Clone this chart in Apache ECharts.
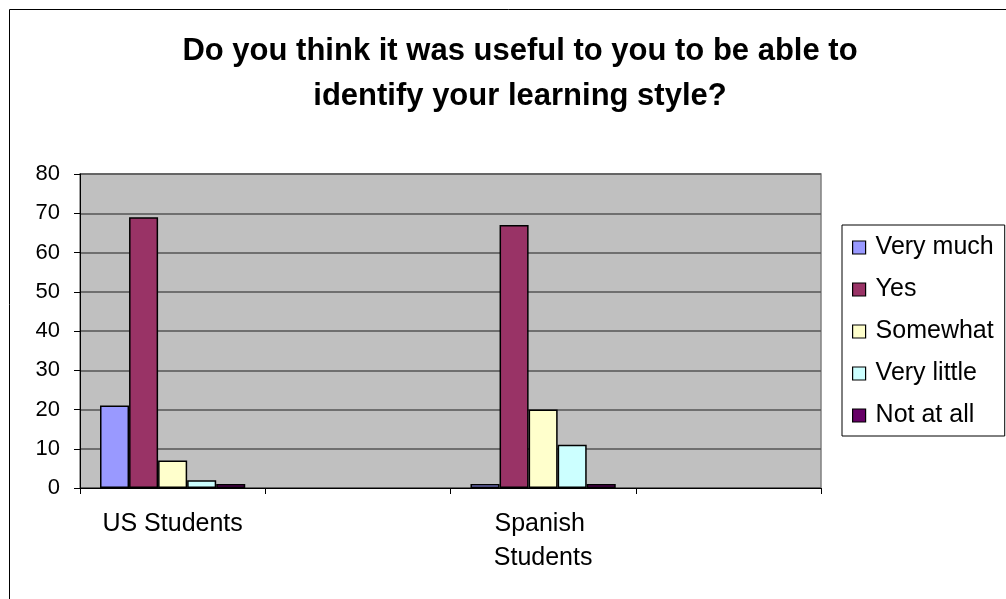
<!DOCTYPE html>
<html><head><meta charset="utf-8">
<script src="https://cdn.jsdelivr.net/npm/echarts@6/dist/echarts.min.js"></script>
<style>html,body{margin:0;padding:0;background:#fff}#c{width:1006px;height:599px}</style>
</head><body><div id="c"></div>
<script>
const titleText = 'Do you think it was useful to you to be able to\nidentify your learning style?';
const categories = ['US Students', '', 'Spanish Students', ''];
const seriesNames = ['Very much', 'Yes', 'Somewhat', 'Very little', 'Not at all'];
const veryMuch = [21, null, 1, null];
const yes = [69, null, 67, null];
const somewhat = [7, null, 20, null];
const veryLittle = [2, null, 11, null];
const notAtAll = [1, null, 1, null];
const yTicks = [0, 10, 20, 30, 40, 50, 60, 70, 80];
const colors = ['#9999FF', '#993366', '#FFFFCC', '#CCFFFF', '#660066'];
const seriesData = [veryMuch, yes, somewhat, veryLittle, notAtAll];

const FONT = 'Liberation Sans, Arial, sans-serif';
const chart = echarts.init(document.getElementById('c'), null, {renderer: 'canvas'});
chart.setOption({
  animation: false,
  backgroundColor: '#fff',
  color: colors,
  title: {
    text: titleText, left: 515, top: 24, textAlign: 'center',
    textStyle: {fontFamily: FONT, fontWeight: 'bold', fontSize: 31, lineHeight: 45, color: '#000'}
  },
  graphic: [{type: 'rect', shape: {x: 9.5, y: 9.5, width: 1010, height: 600}, style: {fill: 'none', stroke: '#000', lineWidth: 1}, silent: true}],
  legend: {
    orient: 'vertical', left: 842, top: 225,
    padding: [10, 11, 8, 10],
    itemGap: 17, itemWidth: 13, itemHeight: 13,
    borderColor: '#000', borderWidth: 1,
    icon: 'rect',
    itemStyle: {borderColor: '#000', borderWidth: 1.2},
    textStyle: {fontFamily: FONT, fontSize: 25, lineHeight: 25, color: '#000', padding: [0,0,0,5]},
    data: seriesNames
  },
  grid: {left: 80, top: 174, width: 741, height: 314, show: true, backgroundColor: '#C0C0C0', borderColor: '#808080', borderWidth: 1.5},
  xAxis: {
    type: 'category', data: categories,
    axisLine: {lineStyle: {color: '#000', width: 1}},
    axisTick: {show: true, length: 6, lineStyle: {color: '#000'}},
    axisLabel: {interval: 0, margin: 19, fontFamily: FONT, fontSize: 25, lineHeight: 34, color: '#000', width: 170, overflow: 'break'}
  },
  yAxis: {
    type: 'value', min: 0, max: 80, interval: 10,
    axisLine: {show: true, lineStyle: {color: '#000'}},
    axisTick: {show: true, length: 6, lineStyle: {color: '#000'}},
    axisLabel: {margin: 20, fontFamily: FONT, fontSize: 22, color: '#000', formatter: v => yTicks.includes(v) ? String(v) : ''},
    splitLine: {lineStyle: {color: '#555', width: 1.5}}
  },
  series: seriesData.map((d, i) => ({
    name: seriesNames[i], type: 'bar', data: d,
    barGap: '0%', barCategoryGap: '21.6%',
    itemStyle: {color: colors[i], borderColor: '#000', borderWidth: 1.5}
  }))
});
</script></body></html>
